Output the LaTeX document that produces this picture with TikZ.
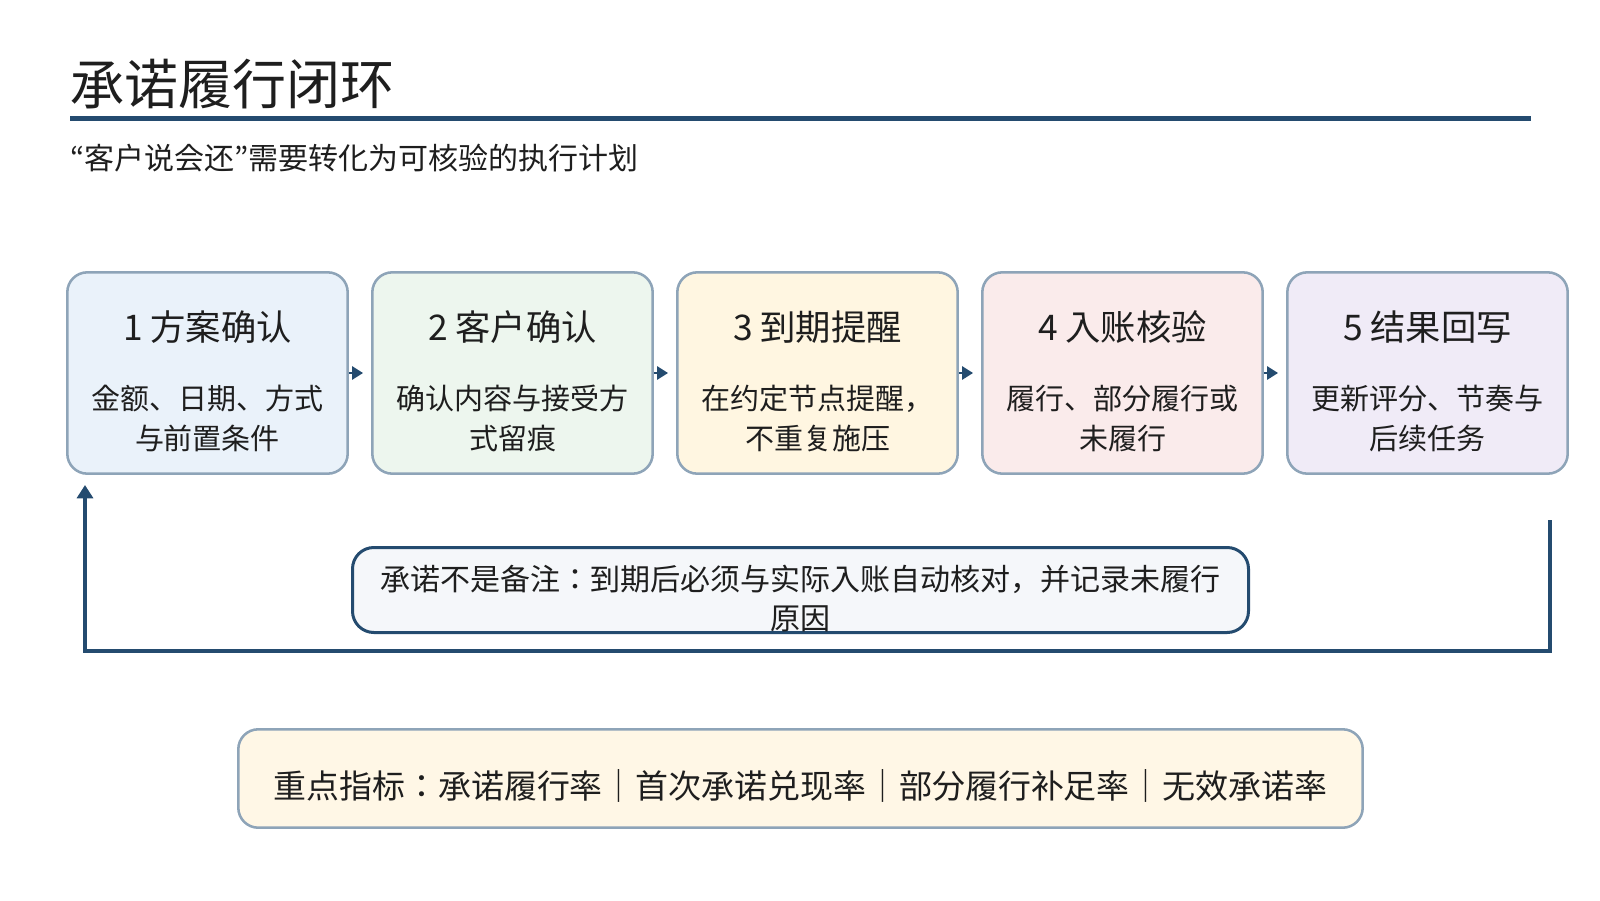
\documentclass[tikz,border=0pt]{standalone}
\usepackage{fontspec}
\setmainfont{Noto Sans CJK JP}
\usepackage{tikz}
\usetikzlibrary{arrows.meta,positioning}

\definecolor{navy}{HTML}{244B6F}
\definecolor{stepline}{HTML}{8EA4B8}
\definecolor{inkc}{HTML}{1E1E1E}
\definecolor{fillA}{HTML}{EAF2FA}
\definecolor{fillB}{HTML}{EDF6EE}
\definecolor{fillC}{HTML}{FFF6E1}
\definecolor{fillD}{HTML}{FAEBEB}
\definecolor{fillE}{HTML}{F0EBF7}
\definecolor{notefill}{HTML}{F5F7FA}
\definecolor{keyfill}{HTML}{FFF7E6}

\tikzset{
  stepbox/.style={draw=stepline, line width=1.9pt, rounded corners=15pt, minimum width=210.3pt, minimum height=151pt, inner sep=0pt},
  steptitle/.style={text=inkc, inner sep=0pt, font=\fontsize{26.5pt}{30pt}\selectfont},
  stepdesc/.style={text=inkc, inner sep=0pt, align=center, font=\fontsize{21.75pt}{30pt}\selectfont},
  flow/.style={navy, line width=1.5pt, -{Triangle[length=8.25pt,width=10pt]}, shorten >=6pt},
  loopline/.style={navy, line width=2.6pt, line join=miter, -{Triangle[length=10pt,width=12pt]}},
}

\begin{document}
\begin{tikzpicture}[x=0.75pt,y=0.75pt,yscale=-1,xscale=1]
\useasboundingbox (0,0) rectangle (1600,900);

% Title
\node [anchor=west, inner sep=0pt, text=inkc, font=\fontsize{40.5pt}{44pt}\selectfont] (title) at (70,84) {承诺履行闭环};
% Title rule
\draw [navy, line width=3.75pt] (70,118.5) -- (1531,118.5);
% Subtitle
\node [anchor=west, inner sep=0pt, text=inkc, font=\fontsize{22.5pt}{26pt}\selectfont] (subtitle) at (70,158.5) {“客户说会还”需要转化为可核验的执行计划};

% Step boxes
\node [stepbox, fill=fillA] (b1) at (207.5,373) {};
\node [stepbox, fill=fillB] (b2) at (512.5,373) {};
\node [stepbox, fill=fillC] (b3) at (817.5,373) {};
\node [stepbox, fill=fillD] (b4) at (1122.5,373) {};
\node [stepbox, fill=fillE] (b5) at (1427.5,373) {};

% Step titles
\node [steptitle] (t1) at ([yshift=42pt]b1.north) {1 方案确认};
\node [steptitle] (t2) at ([yshift=42pt]b2.north) {2 客户确认};
\node [steptitle] (t3) at ([yshift=42pt]b3.north) {3 到期提醒};
\node [steptitle] (t4) at ([yshift=42pt]b4.north) {4 入账核验};
\node [steptitle] (t5) at ([yshift=42pt]b5.north) {5 结果回写};

% Step descriptions
\node [stepdesc] (d1) at ([yshift=110.25pt]b1.north) {金额、日期、方式\\与前置条件};
\node [stepdesc] (d2) at ([yshift=110.25pt]b2.north) {确认内容与接受方\\式留痕};
\node [stepdesc] (d3) at ([yshift=110.25pt]b3.north) {在约定节点提醒，\\不重复施压};
\node [stepdesc] (d4) at ([yshift=110.25pt]b4.north) {履行、部分履行或\\未履行};
\node [stepdesc] (d5) at ([yshift=110.25pt]b5.north) {更新评分、节奏与\\后续任务};

% Flow arrows
\draw [flow] (b1.east) -- (b2.west);
\draw [flow] (b2.east) -- (b3.west);
\draw [flow] (b3.east) -- (b4.west);
\draw [flow] (b4.east) -- (b5.west);

% Feedback loop
\coordinate (loopR) at (1550,520);
\coordinate (loopBR) at (1550,651);
\coordinate (loopBL) at (85,651);
\coordinate (loopEnd) at (85,485);
\draw [loopline] (loopR) -- (loopBR) -- (loopBL) -- (loopEnd);

% Note box
\node [draw=navy, line width=2.25pt, fill=notefill, rounded corners=16pt, minimum width=672pt, minimum height=63.75pt, inner sep=0pt] (note) at (800.5,590) {};
\node [inner sep=0pt, align=center, text=inkc, font=\fontsize{22.5pt}{29.25pt}\selectfont] (notetext) at ([yshift=6.4pt]note.center) {承诺不是备注：到期后必须与实际入账自动核对，并记录未履行\\原因};

% Key metrics box
\node [draw=stepline, line width=1.9pt, fill=keyfill, rounded corners=15pt, minimum width=843.3pt, minimum height=73.8pt, inner sep=0pt] (keys) at (800.5,778.5) {};
\node [inner sep=0pt, text=inkc, font=\fontsize{24.7pt}{28pt}\selectfont] (keytext) at ([yshift=5.5pt]keys.center) {重点指标：承诺履行率｜首次承诺兑现率｜部分履行补足率｜无效承诺率};

\end{tikzpicture}
\end{document}
